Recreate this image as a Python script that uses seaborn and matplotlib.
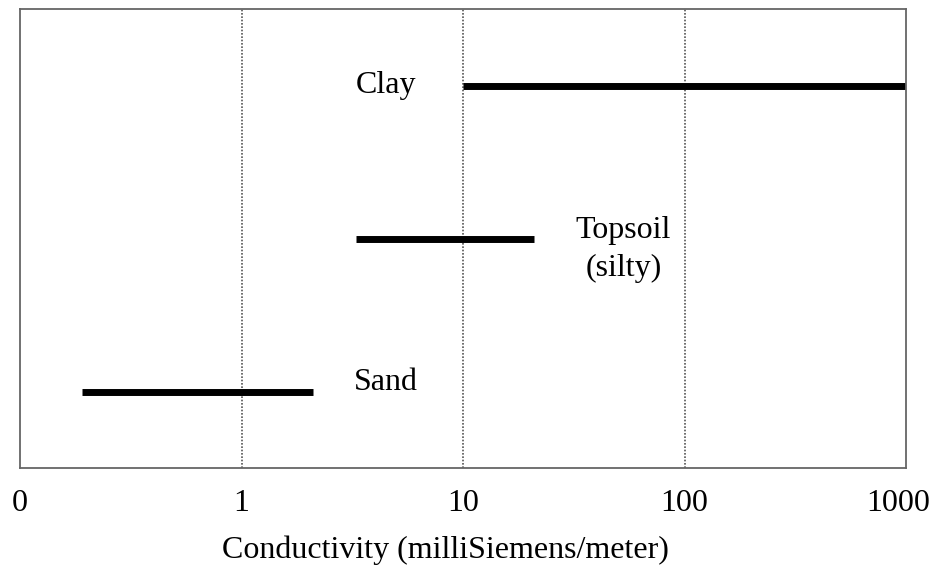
import matplotlib
matplotlib.use("Agg")
import matplotlib.pyplot as plt
import matplotlib.ticker as mticker
import matplotlib.transforms as mtransforms
import numpy as np
import pandas as pd
import seaborn as sns

# Conductivity ranges (mS/m) for each soil type
materials = ["Sand", "Topsoil", "Clay"]
range_low = [0.19, 3.3, 10.0]
range_high = [2.1, 21.0, 1000.0]
labels = ["Sand", "Topsoil\n(silty)", "Clay"]

tick_values = [0.1, 1, 10, 100, 1000]
tick_labels = ["0", "1", "10", "100", "1000"]

rows = []
for i, (m, lo, hi) in enumerate(zip(materials, range_low, range_high)):
    level = i + 0.5
    rows.append({"material": m, "conductivity": lo, "level": level})
    rows.append({"material": m, "conductivity": hi, "level": level})
df = pd.DataFrame(rows)

sns.set_theme(style="white")
plt.rcParams["font.family"] = ["Liberation Serif", "DejaVu Serif"]
plt.rcParams["text.color"] = "black"
plt.rcParams["xtick.color"] = "black"
plt.rcParams["axes.labelcolor"] = "black"

fig = plt.figure(figsize=(9.35, 5.65), dpi=100)
ax = fig.add_axes([20 / 935, 97 / 565, 886 / 935, 459 / 565])

sns.lineplot(data=df, x="conductivity", y="level", units="material",
             estimator=None, sort=False, color="black", linewidth=5,
             solid_capstyle="butt", ax=ax, legend=False)

ax.set_xscale("log")
ax.set_xlim(0.1, 1000)
ax.set_ylim(0, 3)
ax.set_xticks(tick_values)
ax.set_xticklabels(tick_labels, fontsize=23, color="black")
ax.xaxis.set_minor_locator(mticker.NullLocator())
ax.set_yticks([])
ax.set_ylabel("")
ax.tick_params(axis="x", length=0, pad=15)
ax.set_xlabel("Conductivity (milliSiemens/meter)", fontsize=23,
              color="black")
ax.xaxis.set_label_coords(0.48, -0.148)

# keep the last tick label inside the canvas
last = ax.get_xticklabels()[-1]
last.set_transform(last.get_transform() +
                   mtransforms.ScaledTranslation(-8 / 100, 0, fig.dpi_scale_trans))

for v in tick_values[1:-1]:
    ax.axvline(v, color="#555555", linewidth=1.2, linestyle=(0, (1, 1)),
               zorder=0)

for side in ["left", "right", "top", "bottom"]:
    ax.spines[side].set_visible(True)
    ax.spines[side].set_color("#666666")
    ax.spines[side].set_linewidth(1.3)

# Material names next to their ranges
ax.text(4.5, 0.56, labels[0], fontsize=23, ha="center", va="center")
ax.text(53, 1.43, labels[1], fontsize=23, ha="center", va="center",
        multialignment="center", linespacing=1.4)
ax.text(4.5, 2.5, labels[2], fontsize=23, ha="center", va="center")

fig.savefig("out.png", dpi=100)
